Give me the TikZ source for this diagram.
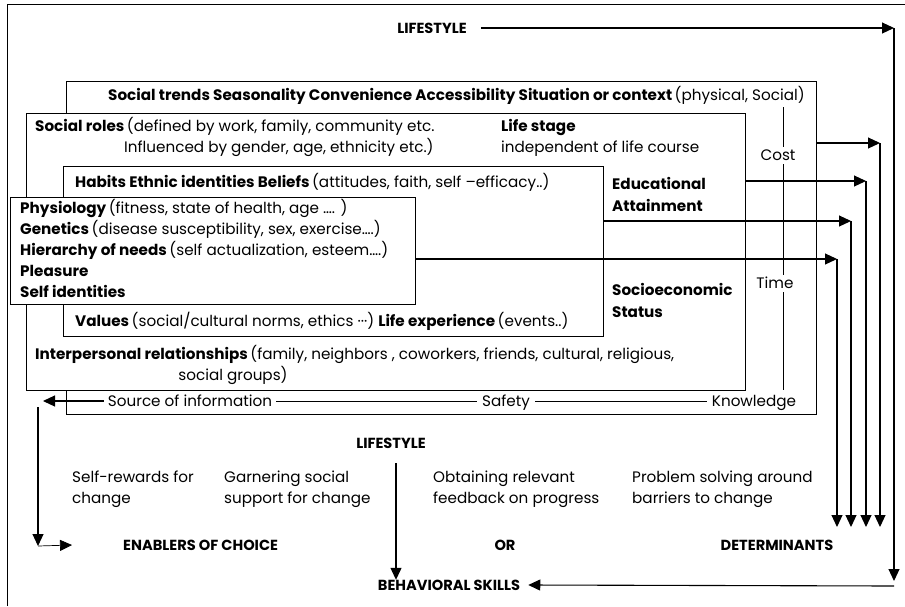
\documentclass[tikz,border=0pt]{standalone}
\usepackage{fontspec}
\setmainfont{Poppins}
\usetikzlibrary{arrows.meta}
\begin{document}
\begin{tikzpicture}[x=1pt,y=-1pt,
  frame/.style={line width=1pt},
  box/.style={draw, line width=1.1pt, fill=white, inner sep=0pt, anchor=north west},
  tx/.style={inner sep=0pt, anchor=west, text height=10pt, text depth=0pt, font=\fontsize{15.2}{18}\selectfont},
  txc/.style={tx, anchor=center},
  hd/.style={tx, anchor=center, font=\fontsize{14.6}{18}\selectfont\bfseries},
  arr/.style={line width=1.1pt, -{Triangle[length=12pt,width=11pt]}},
  thinl/.style={line width=0.8pt},
]
\useasboundingbox (0,0) rectangle (905,606);
\draw[frame] (7,606) -- (7,4) -- (905,4);

% top lifestyle
\node[hd] (ls1) at (432,28) {LIFESTYLE};
\coordinate (rt) at (894,28);
\coordinate (rb) at (894,581);
\draw[arr] ([xshift=14pt]ls1.east) -- (rt);
\draw[arr] (rt) -- (rb);

% box A
\node[box, minimum width=750pt, minimum height=333pt] (boxA) at (66,81) {};
\node[tx] (st) at (108,95) {\textbf{Social trends Seasonality Convenience Accessibility Situation or context}\,(physical, Social)};
\node[txc] (cost) at (778,155) {Cost};
\node[txc] (time) at (775,283) {Time};
\node[txc] (know) at (754,401) {Knowledge};
\node[txc] (src) at (190,401) {Source of information};
\node[txc] (safe) at (506,401) {Safety};
\coordinate (ctl) at (783,107);
\draw[thinl] (ctl) -- ([yshift=3pt]ctl |- cost.north);
\draw[thinl] ([yshift=-4pt]ctl |- cost.south) -- ([yshift=3pt]ctl |- time.north);
\draw[thinl] ([yshift=-4pt]ctl |- time.south) -- ([yshift=6pt]ctl |- know.north);

% box B
\node[box, minimum width=719pt, minimum height=277pt] (boxB) at (26,113) {};
\node[tx] (sr1) at (35,126) {\textbf{Social roles}\,(defined by work, family, community etc.};
\node[tx] (sr2) at (124,147) {Influenced by gender, age, ethnicity etc.)};
\node[tx] (lst1) at (501,126) {\textbf{Life stage}};
\node[tx] (lst2) at (501,147) {independent of life course};
\node[tx] (edu1) at (612,184) {\textbf{Educational}};
\node[tx] (edu2) at (612,206) {\textbf{Attainment}};
\node[tx] (ses1) at (612,290) {\textbf{Socioeconomic}};
\node[tx] (ses2) at (612,312) {\textbf{Status}};
\node[tx] (ip1) at (35,354) {\textbf{Interpersonal relationships}\,(family, neighbors , coworkers, friends, cultural, religious,};
\node[txc] (ip2) at (233,375) {social groups)};

% box C
\node[box, minimum width=540pt, minimum height=170pt] (boxC) at (63,166) {};
\node[tx] (hab) at (75,182) {\textbf{Habits Ethnic identities Beliefs}\,(attitudes, faith, self –efficacy..)};
\node[tx] (val) at (75,321) {\textbf{Values}\,(social/cultural norms, ethics ···)\ \textbf{Life experience}\,(events..)};

% box D
\node[box, minimum width=405pt, minimum height=107pt] (boxD) at (10,197) {};
\node[tx] (phy) at (20,208) {\textbf{Physiology}\,(fitness, state of health, age …. )};
\node[tx] (gen) at (20,229) {\textbf{Genetics}\,(disease susceptibility, sex, exercise….)};
\node[tx] (hie) at (20,250) {\textbf{Hierarchy of needs}\,(self actualization, esteem….)};
\node[tx] (plea) at (20,271) {\textbf{Pleasure}};
\node[tx] (sid) at (20,292) {\textbf{Self identities}};

% right-side arrows
\coordinate (dbot) at (0,527);
\coordinate (k1) at (880,143);
\coordinate (k2) at (866,181);
\coordinate (k3) at (851,221);
\coordinate (k4) at (837,259);
\draw[arr] (boxA.east |- k1) -- (k1);
\draw[arr] (boxB.east |- k2) -- (k2);
\draw[arr] (boxC.east |- k3) -- (k3);
\draw[arr] (boxD.east |- k4) -- (k4);
\draw[arr] (k1) -- (k1 |- dbot);
\draw[arr] (k2) -- (k2 |- dbot);
\draw[arr] (k3) -- (k3 |- dbot);
\draw[arr] (k4) -- (k4 |- dbot);

% bottom line of box A
\coordinate (la) at (43,401);
\draw[arr] ([xshift=-4pt]src.west) -- (la);
\draw[thinl] ([xshift=4pt]src.east) -- ([xshift=-5pt]safe.west);
\draw[thinl] ([xshift=5pt]safe.east) -- ([xshift=-5pt]know.west);

% lower part
\node[hd] (ls2) at (391,443) {LIFESTYLE};
\node[tx] (sw1) at (72,477) {Self-rewards for};
\node[tx] (sw2) at (72,498) {change};
\node[tx] (ga1) at (224,477) {Garnering social};
\node[tx] (ga2) at (224,498) {support for change};
\node[tx] (ob1) at (433,477) {Obtaining relevant};
\node[tx] (ob2) at (433,498) {feedback on progress};
\node[tx] (pr1) at (632,477) {Problem solving around};
\node[tx] (pr2) at (632,498) {barriers to change};
\node[hd, anchor=west] (enab) at (123,545) {ENABLERS OF CHOICE};
\node[hd] (or) at (505,545) {OR};
\node[hd] (det) at (777,545) {DETERMINANTS};
\node[hd] (beh) at (449,585) {BEHAVIORAL SKILLS};

\coordinate (lv) at (38,407);
\coordinate (lvb) at (38,546);
\draw[arr] (lv) -- (lvb);
\draw[line width=0.7pt, -{Triangle[length=12pt,width=11pt]}] (lvb) -- ([xshift=-51pt]enab.west);
\coordinate (lsa) at (396,463);
\draw[arr] (lsa) -- (lsa |- beh.north);
\draw[arr] (894,586) -- ([xshift=8pt]beh.east);
\end{tikzpicture}
\end{document}
